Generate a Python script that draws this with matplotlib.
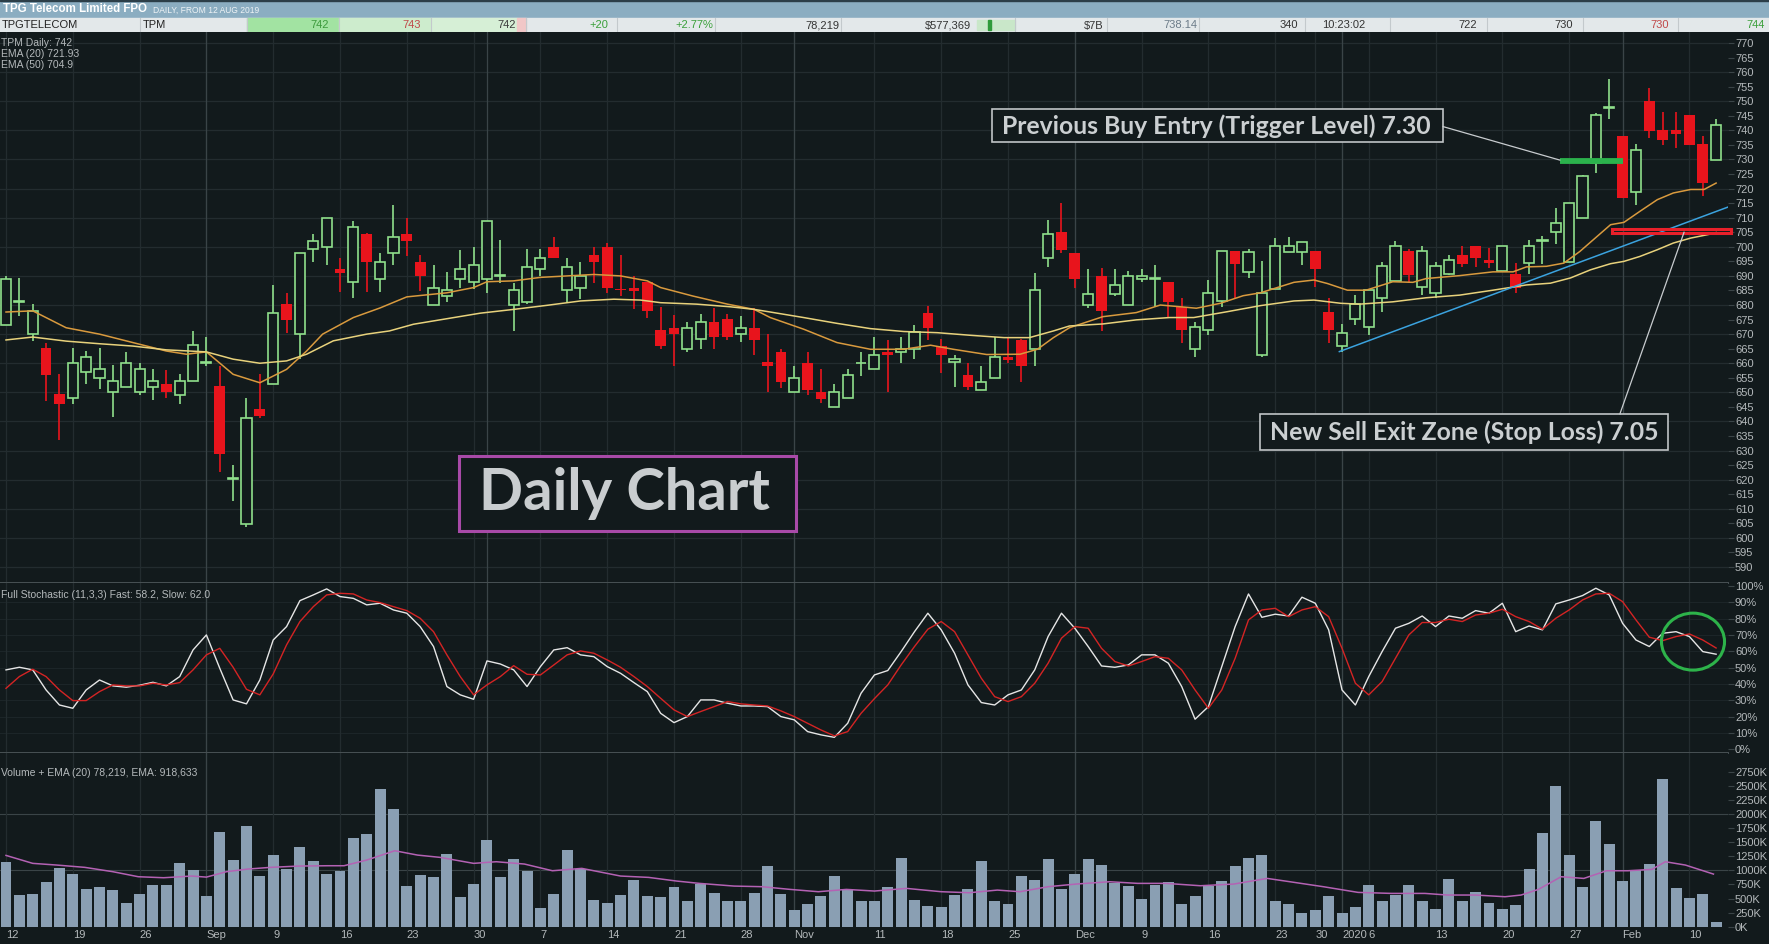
import numpy as np
import matplotlib
matplotlib.use("Agg")
import matplotlib.pyplot as plt
from matplotlib import font_manager
from matplotlib.patches import Rectangle, Ellipse

# ---------------- data ----------------
# daily OHLC, TPM, 12 Aug 2019 .. 12 Feb 2020 (cents)
opens = [673, 681, 670.2, 665.1, 649.3, 648.1, 657.1, 655.1, 650.2, 652,
         650.2, 652, 653, 649.1, 654, 660.2, 652.1, 620.4, 604.6, 644.2,
         653, 680.3, 670.2, 699.2, 700.1, 692.3, 688, 704.3, 689.1, 698,
         704.3, 694.9, 680, 683.1, 689.1, 688, 689.1, 690, 680, 681.2,
         692.3, 700.1, 685.1, 686, 697.1, 700.1, 685.2, 686, 687.9, 671.3,
         672.2, 665, 668.2, 674, 675.1, 670.2, 672.2, 660.4, 663.9, 650,
         660.1, 650, 644.8, 647.9, 660, 657.9, 663.9, 663.8, 664.8, 677.2,
         665.9, 660.3, 656, 650.8, 654.8, 662.3, 668, 665, 696, 705.1,
         698, 680, 690, 683.9, 680, 689.1, 689.1, 688, 679.4, 665,
         671.4, 681.4, 698.5, 691.4, 663, 685.5, 698.3, 698.3, 698.5, 677.5,
         666, 675.2, 672.6, 682.5, 688.2, 698.5, 686.3, 684, 690.5, 697.1,
         700.3, 695.4, 691.7, 690.5, 694.3, 702, 705, 694.8, 709.9, 728.9,
         747.8, 738.1, 718.9, 750.1, 740, 740, 745.2, 735.2, 729.8]
highs = [690, 689.4, 680.3, 667.1, 656.2, 665.1, 664.2, 665.1, 659.3, 664,
         660.2, 658.1, 657.6, 656.2, 671.1, 669.1, 659.1, 625, 648, 656.2,
         686.8, 684, 698, 704.3, 710, 696, 708.7, 704.9, 698, 714.3,
         710, 697.1, 693.8, 691.5, 698.9, 700.1, 708.9, 702.2, 687.7, 699.2,
         699.2, 703.2, 696.1, 694.9, 700, 701.2, 697.1, 690, 687.9, 679.4,
         676.6, 674, 677, 679.1, 677, 676.2, 679.1, 670.2, 665, 659.1,
         663.9, 657.9, 652.9, 657.9, 663.8, 669, 668, 669, 673, 679.7,
         668.2, 663, 660, 659.1, 669.1, 669.1, 668.2, 691.1, 709.1, 715.2,
         698, 692.3, 692.6, 692.3, 691.7, 692.3, 693.8, 688, 682.3, 674.3,
         688.6, 698.5, 698.5, 699.2, 695.2, 702.9, 703.4, 701.5, 698.5, 682.3,
         673.4, 683.4, 685.1, 694.9, 701.9, 699.4, 700.3, 694.9, 697.1, 700.3,
         700.3, 699.7, 700.3, 694.3, 702.3, 703.6, 713.2, 714.9, 724.6, 746.1,
         757.6, 738.1, 735.4, 754.4, 746.3, 746.3, 745.2, 738.1, 744]
lows = [673, 676.2, 667.7, 647, 633.6, 645.9, 652.8, 651, 641.5, 652,
        649.1, 647.4, 648, 645.9, 654, 659.1, 622.7, 612.5, 603.6, 641.3,
        653, 670.5, 661.4, 694.9, 693.8, 684.6, 682.3, 684.6, 684.6, 693.8,
        696.9, 684.8, 680, 681.2, 686, 685.4, 684, 687.7, 671.1, 680.3,
        690, 696, 681.2, 682, 687.7, 684, 683.1, 678.8, 675.7, 664.8,
        659.1, 663.9, 664.8, 664.8, 667.9, 667.4, 662.7, 650, 651.4, 650,
        649, 646.4, 644.8, 647.9, 655.7, 657.9, 650, 660.2, 661.4, 667.9,
        656.6, 651.7, 650.8, 650.8, 654.8, 660.2, 653.7, 659.1, 693.2, 698,
        686, 679.1, 671.1, 683, 680, 688, 679.3, 675.7, 667, 662,
        669.7, 679.4, 682.3, 689.4, 662, 685.5, 698.3, 693.7, 686.3, 667,
        664, 673.1, 669.7, 677.7, 688.2, 687.4, 683.4, 682.5, 690.3, 693.1,
        693.1, 692.6, 691.4, 684, 690.5, 694, 700.9, 694.8, 709.9, 725.2,
        744, 716.8, 714.2, 737.5, 734.9, 733.8, 734.9, 717.4, 729.8]
closes = [689, 681.2, 678.1, 656, 645.9, 660.2, 662.3, 658.1, 654, 660.2,
          658.1, 654, 650.1, 654, 666.1, 660.4, 628.8, 620.6, 641.1, 641.8,
          677.2, 674.9, 698, 702, 710, 691.1, 706.9, 694.9, 694.9, 703.2,
          702, 690, 686, 685.1, 692.3, 693.8, 708.9, 690.2, 685.1, 693.2,
          696, 696, 693.2, 690, 694.8, 686, 685, 684.8, 678, 666,
          670.2, 672.2, 674, 669, 669, 672.2, 667.9, 659.1, 653.7, 654.8,
          650.8, 647.7, 650, 656, 660.2, 662.8, 662.8, 664.8, 670.9, 672,
          662.8, 661.5, 651.7, 653.7, 662.2, 661.1, 658.9, 685.1, 704.3, 698.9,
          689.1, 683.9, 678, 686.9, 690, 690, 689.3, 681, 671.4, 672.6,
          684.2, 698.5, 694.1, 698.3, 684, 700.3, 700.3, 701.5, 692.3, 671.4,
          670.3, 680.3, 685.1, 693.5, 700.3, 690.3, 698.5, 693.5, 695.4, 694.1,
          696.2, 694.3, 700.3, 686, 700.3, 702.2, 708.2, 714.9, 724.3, 745.2,
          748, 716.8, 733.1, 739.8, 736.7, 738.6, 734.9, 721.8, 741.9]

volume_k = [1147, 568, 580, 792, 1041, 934, 668, 704, 650, 420,
            580, 745, 745, 1130, 1005, 544, 1680, 1183, 1786, 899,
            1271, 1023, 1413, 1165, 934, 988, 1573, 1644, 2442, 2087,
            721, 922, 881, 1289, 526, 757, 1538, 881, 1200, 988,
            331, 580, 1360, 1023, 473, 420, 562, 828, 544, 526,
            704, 455, 757, 597, 455, 455, 597, 1076, 580, 296,
            402, 544, 899, 668, 455, 455, 704, 1218, 473, 367,
            349, 562, 668, 1165, 455, 402, 899, 828, 1200, 668,
            934, 1200, 1094, 775, 721, 491, 739, 792, 402, 544,
            721, 810, 1076, 1218, 1271, 455, 402, 242, 296, 544,
            242, 349, 739, 455, 562, 739, 455, 313, 846, 455,
            615, 420, 313, 384, 1023, 1662, 2496, 1271, 704, 1875,
            1467, 810, 1005, 1112, 2620, 686, 509, 580, 78]

stoch_fast = [48.6, 50.2, 48.6, 36.3, 27.1, 25.1, 36.3, 42.4, 38.8, 38.0,
              39.2, 41.0, 38.8, 44.5, 60.8, 70.0, 49.6, 30.2, 27.8, 42.4,
              66.9, 75.1, 91.0, 94.5, 98.2, 93.5, 92.4, 88.4, 89.4, 85.3,
              83.3, 75.1, 62.9, 38.4, 33.3, 30.6, 54.1, 52.2, 48.6, 38.4,
              50.6, 60.8, 62.2, 57.8, 56.7, 50.6, 46.5, 40.8, 35.3, 22.0,
              16.3, 20.0, 30.2, 30.2, 28.2, 26.5, 26.5, 26.1, 20.0, 18.0,
              10.8, 8.8, 7.3, 15.9, 34.3, 45.5, 48.2, 59.8, 72.0, 83.3,
              73.1, 58.8, 39.4, 28.6, 27.1, 33.3, 36.3, 48.6, 69.0, 83.3,
              74.1, 62.9, 51.0, 50.2, 51.6, 57.8, 57.8, 52.7, 38.4, 18.4,
              26.1, 50.6, 75.1, 95.1, 80.8, 82.7, 81.6, 93.1, 89.4, 73.1,
              36.3, 27.1, 44.5, 59.8, 74.1, 77.1, 81.6, 75.1, 81.6, 80.2,
              84.9, 83.3, 89.4, 72.0, 75.5, 73.1, 89.0, 91.4, 94.1, 98.6,
              94.5, 77.1, 66.9, 62.9, 71.0, 72.0, 69.0, 59.8, 58.2]
stoch_slow = [37.3, 44.5, 49.0, 44.5, 36.3, 29.8, 29.8, 35.3, 39.4, 38.8,
              38.8, 40.4, 39.4, 40.8, 48.6, 57.8, 61.8, 50.2, 36.7, 33.3,
              46.1, 63.9, 78.2, 87.3, 94.5, 95.5, 95.1, 91.4, 89.8, 87.3,
              84.9, 80.2, 72.0, 57.8, 44.5, 33.3, 39.4, 44.5, 51.2, 45.9,
              45.5, 51.6, 57.8, 60.2, 58.8, 54.7, 50.2, 44.5, 38.4, 31.2,
              24.1, 20.0, 23.1, 26.1, 29.2, 27.8, 27.1, 26.5, 23.5, 20.0,
              15.9, 11.8, 8.2, 10.8, 22.0, 31.0, 39.4, 51.6, 62.9, 73.5,
              78.2, 72.0, 57.8, 43.5, 32.2, 29.2, 32.2, 40.4, 52.7, 68.0,
              75.1, 74.1, 61.8, 53.7, 51.0, 53.7, 56.7, 55.7, 48.6, 36.3,
              25.1, 36.3, 55.7, 79.2, 85.3, 86.3, 81.2, 85.3, 87.3, 81.2,
              61.8, 40.4, 33.3, 41.4, 55.7, 70.0, 77.6, 77.6, 79.6, 78.2,
              82.2, 83.3, 85.7, 81.2, 78.2, 73.5, 80.2, 85.3, 91.4, 95.1,
              95.5, 90.4, 79.2, 68.6, 66.5, 69.0, 70.6, 66.9, 62.0]

# moving averages, read at sample points (bar index, value)
ema20_x = [0, 2, 4.5, 7, 9.5, 12, 13.5, 15, 17, 19, 21, 22.5, 23.7, 26, 28,
           30, 33, 35, 36, 38, 40, 42, 44, 46, 48, 49, 51.4, 54, 56, 57.2,
           59.7, 62.2, 64.7, 67.2, 69.2, 70.9, 73.4, 75.9, 77.2, 78.4, 79.6,
           82.1, 84.6, 86.4, 87.9, 89.1, 90.9, 92.6, 93.9, 96.4, 97.9, 98.9,
           100.4, 101.8, 103.8, 105.3, 106.3, 108.8, 111.3, 112.8, 113.8,
           115.3, 116.6, 117.8, 119.1, 120.1, 121.1, 122.3, 123.6, 124.8,
           126.1, 127.1, 128]
ema20 = [677.6, 678, 672.2, 670, 667.1, 664.2, 663.1, 663.9, 656.2, 653.3,
         657.9, 664.2, 670, 675.7, 679, 682.8, 684.2, 686, 688, 688.3, 689.5,
         690, 690.5, 690, 688.3, 686, 683.1, 680.3, 678.5, 675.7, 671.7,
         667.1, 664.8, 664.8, 666.2, 664.8, 663, 663.1, 664.8, 668.8, 672.2,
         676, 677.4, 680, 679.4, 678.9, 680.6, 683.2, 684.2, 687.8, 688.6,
         687.4, 685.1, 685.1, 688, 687.8, 689.1, 690.1, 691.4, 691.4, 693.1,
         693.3, 694.4, 698.4, 703.6, 707.6, 708.4, 712.2, 716.2, 718.5, 719.7,
         719.7, 721.9]
ema50_x = [0, 2, 4.5, 7, 9.5, 12, 15, 17, 19, 21, 22.5, 24.5, 27, 28.7, 30.5,
           33, 35.5, 38, 40.5, 43, 45.5, 47.5, 49, 51.7, 54.2, 56, 57.2, 59.7,
           62.2, 64.7, 67.2, 69.7, 72.2, 74.7, 76.6, 78.4, 79.6, 82.1, 84.6,
           87.1, 88.9, 91.4, 93.9, 96.4, 97.9, 99.9, 101.3, 103.8, 106.3,
           108.8, 111.3, 113.8, 115.6, 117.1, 118.6, 120.1, 121.1, 122.3,
           123.6, 124.8, 126.1, 127.6, 128]
ema50 = [668, 669, 667.6, 666.7, 665.9, 664.6, 663.9, 661.4, 660, 660.8,
         663.1, 667.7, 670, 671.1, 673.4, 675.3, 677.2, 678.5, 679.9, 681.4,
         682, 681.7, 680.8, 680.3, 679.4, 678.5, 677.6, 675.7, 673.7, 671.9,
         670.9, 670.5, 669.6, 668.8, 668.8, 671.1, 672.8, 673.5, 674.9, 675.7,
         675.7, 677.7, 679.8, 681.4, 681.7, 680.6, 680.3, 681.1, 682.5, 683.4,
         685.1, 686.9, 687.5, 689.3, 692.1, 694.2, 695, 696.7, 699, 701.3,
         703, 704.4, 704.9]
vol_ema_x = [0, 2, 3.8, 5.9, 8, 9.9, 11.8, 13.9, 15, 16.5, 18.1, 19.8, 21.9,
             24.1, 25.3, 27, 29.1, 30.8, 32.5, 35, 36.7, 38.8, 40.9, 43.1, 46,
             48.1, 50.2, 51.9, 54.5, 56.6, 58.7, 60.8, 62.9, 65, 67.4, 70,
             72.1, 74.2, 75.9, 78, 80.1, 82.6, 84.7, 86.8, 89.4, 91.9, 94.4,
             96.1, 98.6, 101.2, 103.7, 106.2, 107.9, 110, 112.2, 113.4, 114.7,
             116.4, 118.1, 119.8, 121.4, 123.2, 124.2, 125.7, 127.8]
vol_ema = [1265, 1124, 1094, 1053, 976, 887, 869, 899, 880, 976, 1023, 1053,
           1076, 1082, 1082, 1183, 1348, 1271, 1230, 1124, 1153, 1112, 993,
           1035, 899, 875, 810, 769, 721, 710, 662, 621, 662, 633, 680, 621,
           603, 650, 621, 710, 757, 798, 769, 769, 727, 757, 857, 798, 710,
           609, 591, 591, 562, 562, 532, 562, 662, 887, 857, 993, 993, 1017,
           1153, 1094, 934]

tick_pos = [0, 5, 10, 15, 20, 25, 30, 35, 40, 45, 50, 55, 59, 65, 70, 75,
            80, 85, 90, 95, 98, 100, 102, 107, 112, 117, 121, 126]
tick_labels = ['12', '19', '26', 'Sep', '9', '16', '23', '30', '7', '14',
               '21', '28', 'Nov', '11', '18', '25', 'Dec', '9', '16', '23',
               '30', '2020', '6', '13', '20', '27', 'Feb', '10']
month_pos = [15, 36, 59, 80, 100, 121]

# drawn levels / annotations
trigger_level, trigger_from, trigger_to = 729.6, 116.3, 121.0
stop_level, stop_from, stop_to = 705.4, 120.2, 129.15
trend_x = [99.8, 129.5]
trend_y = [664.0, 714.7]

# quote strip: (text, right edge px, colour)
quote_cells = [("742", 329, "#3c9a3c"), ("743", 421, "#c04848"),
               ("742", 516, "#3a3a3a"), ("+20", 608, "#3aa03a"),
               ("+2.77%", 713, "#3aa03a"), ("78,219", 839, "#333333"),
               ("$577,369", 971, "#333333"), ("$7B", 1103, "#333333"),
               ("738.14", 1197, "#6b7b88"), ("340", 1298, "#333333"),
               ("10:23:02", 1365, "#333333"), ("722", 1477, "#333333"),
               ("730", 1573, "#333333"), ("730", 1669, "#c04848"),
               ("744", 1765, "#3aa03a")]
cell_edges = [140, 247, 339, 431, 526, 617, 715, 841, 1015, 1107, 1199,
              1305, 1390, 1487, 1583, 1678]

# ---------------- styling ----------------
W, H = 1769, 944
BG = '#121a1c'
GRID = '#232c2f'
GRID_M = '#3a4447'
SEP = '#485154'
TXT = '#b4b9bb'
GREEN = '#8fe08b'
RED = '#e8141c'

names = {f.name for f in font_manager.fontManager.ttflist}
NARROW = 'Liberation Sans Narrow' if 'Liberation Sans Narrow' in names else 'Lato'
SMALL = 'Liberation Sans'

fig = plt.figure(figsize=(W / 100, H / 100), dpi=100, facecolor=BG)
renderer = fig.canvas.get_renderer()


def px_axes(x0, y0, x1, y1):
    return fig.add_axes([x0 / W, 1 - y1 / H, (x1 - x0) / W, (y1 - y0) / H])


def fit(t, width):
    w = t.get_window_extent(renderer).width
    t.set_fontsize(t.get_fontsize() * width / w)


XL = (-0.449, 128.89)
idx = np.arange(len(closes))
o = np.array(opens)
c = np.array(closes)
hi = np.array(highs)
lo = np.array(lows)
up = c >= o
dn = ~up

# ---------------- header ----------------
hax = px_axes(0, 0, W, 32)
hax.set_xlim(0, W)
hax.set_ylim(32, 0)
hax.axis('off')
hax.add_patch(Rectangle((0, 0), W, 18, color='#8badc1'))
hax.add_patch(Rectangle((0, 0), W, 1.2, color='#2c3e48'))
hax.add_patch(Rectangle((0, 18), W, 14, color='#e3e8ea'))
hax.add_patch(Rectangle((247, 18), 92, 14, color='#a2e3a2'))
hax.add_patch(Rectangle((339, 18), 92, 14, color='#cdeccd'))
hax.add_patch(Rectangle((431, 18), 86, 14, color='#d6efd6'))
hax.add_patch(Rectangle((517, 18), 9, 14, color='#f1c7c7'))
hax.add_patch(Rectangle((977, 20), 38, 10, color='#c9e7c9'))
hax.add_patch(Rectangle((988, 20), 3, 10, color='#2f9a3a'))
for e in cell_edges:
    hax.plot([e, e], [18, 32], color='#c3c9cc', lw=0.8)
t = hax.text(3, 9.5, "TPG Telecom Limited FPO", color='white',
             fontweight='bold', family=SMALL, fontsize=9, va='center')
fit(t, 144)
t = hax.text(153, 10, "DAILY, FROM 12 AUG 2019", color='#eef3f6',
             family=SMALL, fontsize=6, va='center')
fit(t, 107)
hax.text(2, 25.5, "TPGTELECOM", color='#222222', family=SMALL, fontsize=8,
         va='center')
hax.text(143, 25.5, "TPM", color='#222222', family=SMALL, fontsize=8,
         va='center')
for txt, xr, col in quote_cells:
    hax.text(xr, 25.5, txt, color=col, family=SMALL, fontsize=8,
             va='center', ha='right')

# ---------------- price panel ----------------
ax = px_axes(0, 32, 1728, 583)
ax.set_facecolor(BG)
ax.set_xlim(*XL)
ax.set_ylim(584.5, 773.8)
for v in range(590, 771, 10):
    ax.axhline(v, color=GRID, lw=0.9, zorder=0)

ax.vlines(idx[up], lo[up], hi[up], color=GREEN, lw=1.2, zorder=2)
ax.vlines(idx[dn], lo[dn], hi[dn], color=RED, lw=1.2, zorder=2)
ax.bar(idx[up], np.maximum(c - o, 0.25)[up], bottom=o[up], width=0.76,
       facecolor=BG, edgecolor=GREEN, lw=1.2, zorder=3)
ax.bar(idx[dn], np.maximum(o - c, 0.6)[dn], bottom=c[dn], width=0.8,
       color=RED, lw=0, zorder=3)

ax.plot(ema20_x, ema20, color='#d99a3e', lw=1.1, zorder=4)
ax.plot(ema50_x, ema50, color='#e8d27c', lw=1.1, zorder=4)
ax.plot(trend_x, trend_y, color='#3ba3df', lw=1.1, zorder=4)

ax.plot([trigger_from, trigger_to], [trigger_level] * 2, color='#2bb24c',
        lw=4.2, solid_capstyle='butt', zorder=5)
ax.add_patch(Rectangle((stop_from, stop_level - 0.8), stop_to - stop_from,
                       1.6, fill=False, edgecolor='#e8202a', lw=2.2,
                       zorder=5, clip_on=False))

ANN = '#cbcfd1'
# buy-entry label
ax.add_patch(Rectangle((73.8, 736.0), 33.76, 11.3, facecolor=BG,
                       edgecolor='#c0c4c6', lw=1.2, zorder=6))
t = ax.text(90.57, 741.4, "Previous Buy Entry (Trigger Level) 7.30",
            color=ANN, family=NARROW, fontweight='bold', fontsize=16,
            ha='center', va='center', zorder=7)
fit(t, 432)
ax.plot([107.56, 116.3], [741.3, 729.8], color='#c8cccf', lw=0.9, zorder=6)

# stop-loss label
ax.add_patch(Rectangle((93.86, 630.2), 30.54, 12.4, facecolor=BG,
                       edgecolor='#c0c4c6', lw=1.2, zorder=6))
t = ax.text(109.17, 636.2, "New Sell Exit Zone (Stop Loss) 7.05",
            color=ANN, family=NARROW, fontweight='bold', fontsize=16,
            ha='center', va='center', zorder=7)
fit(t, 389)
ax.plot([120.8, 125.6], [642.6, 705.0], color='#c8cccf', lw=0.9, zorder=6)

# daily chart tag
ax.add_patch(Rectangle((33.9, 602.4), 25.2, 25.7, facecolor=BG,
                       edgecolor='#a84aa8', lw=2.2, zorder=6))
t = ax.text(46.3, 615.2, "Daily Chart", color='#c9cdcf', family=NARROW,
            fontweight='bold', fontsize=40, ha='center', va='center',
            zorder=7)
fit(t, 291)

# ---------------- stochastic panel ----------------
sax = px_axes(0, 583, 1728, 753)
sax.set_facecolor(BG)
sax.set_xlim(*XL)
sax.set_ylim(-2.3, 101.8)
for v in range(10, 100, 10):
    sax.axhline(v, color='#1c2528', lw=0.8, zorder=0)
sax.plot(idx, stoch_fast, color='#e6e6e6', lw=1.0, zorder=3)
sax.plot(idx, stoch_slow, color='#d42424', lw=1.0, zorder=3)
sax.add_patch(Ellipse((126.27, 65.9), 4.72, 34.9, fill=False,
                      edgecolor='#2db34a', lw=2.2, zorder=5))

# ---------------- volume panel ----------------
vax = px_axes(0, 753, 1728, 927)
vax.set_facecolor(BG)
vax.set_xlim(*XL)
vax.set_ylim(-5, 3082)
for v in (1000, 2000):
    vax.axhline(v, color=GRID_M, lw=0.8, zorder=0)
vax.bar(idx, volume_k, width=0.82, color='#8a9fb3', zorder=2)
vax.plot(vol_ema_x, vol_ema, color='#b462b4', lw=1.1, zorder=3)

# ---------------- shared axis styling ----------------
for a in (ax, sax, vax):
    for p in tick_pos:
        a.axvline(p, color=GRID, lw=0.9, zorder=0)
    for p in month_pos:
        a.axvline(p, color=GRID_M, lw=0.9, zorder=0)
    for s in ('top', 'left', 'right'):
        a.spines[s].set_visible(False)
    a.spines['bottom'].set_color(SEP)
    a.spines['bottom'].set_linewidth(1.4)
    a.yaxis.tick_right()
    a.tick_params(axis='y', colors=GRID_M, labelcolor=TXT, length=4,
                  width=0.8, pad=1, labelsize=8)
    for lab in a.get_yticklabels():
        lab.set_family(SMALL)

ax.set_xticks([])
sax.set_xticks([])
ax.set_yticks(range(590, 771, 5))
ax.set_yticklabels([str(v) for v in range(590, 771, 5)], family=SMALL)
sax.set_yticks(range(0, 101, 10))
sax.set_yticklabels([f"{v}%" for v in range(0, 101, 10)], family=SMALL)
vax.set_yticks(range(0, 2751, 250))
vax.set_yticklabels([f"{v}K" for v in range(0, 2751, 250)], family=SMALL)
vax.set_xticks(tick_pos)
vax.set_xticklabels(tick_labels, ha='left', family=SMALL)
vax.tick_params(axis='x', length=0, pad=2, labelsize=8, labelcolor=TXT)
vax.spines['bottom'].set_visible(False)

# panel captions
cap = dict(color=TXT, family=SMALL, fontsize=7.5, va='center')
fig.text(1 / W, 1 - 43 / H, "TPM Daily: 742", **cap)
fig.text(1 / W, 1 - 54 / H, "EMA (20) 721.93", **cap)
fig.text(1 / W, 1 - 65 / H, "EMA (50) 704.9", **cap)
fig.text(1 / W, 1 - 595 / H,
         "Full Stochastic (11,3,3) Fast: 58.2, Slow: 62.0", **cap)
fig.text(1 / W, 1 - 773 / H, "Volume + EMA (20) 78,219, EMA: 918,633", **cap)

fig.savefig("out.png", dpi=100, facecolor=BG)
